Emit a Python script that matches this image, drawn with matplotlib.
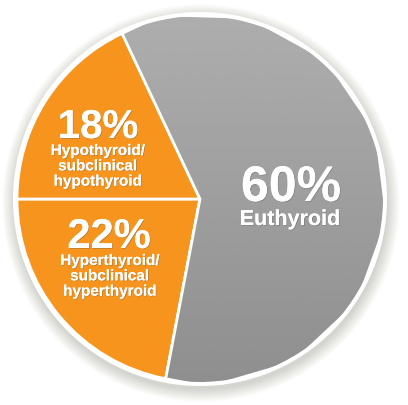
import matplotlib.pyplot as plt
import matplotlib.patheffects as pe
from matplotlib.patches import Circle
import numpy as np

plt.rcParams['font.family'] = ['Liberation Sans', 'DejaVu Sans']

# data
labels = ["Hyperthyroid/\nsubclinical\nhyperthyroid", "Euthyroid", "Hypothyroid/\nsubclinical\nhypothyroid"]
values = [22, 60, 18]
pct_text = ["22%", "60%", "18%"]
colors = ["#F7941D", "#A0A0A0", "#F7941D"]

W, H = 408, 406
cx, cy, R = 200, H - 200, 183

fig = plt.figure(figsize=(W / 100, H / 100), dpi=100)
ax = fig.add_axes([0, 0, 1, 1])
ax.set_xlim(0, W)
ax.set_ylim(0, H)
ax.set_aspect('equal')
ax.axis('off')

# soft shadow + white ring behind the pie
for i in range(14):
    ax.add_patch(Circle((cx + 1, cy - 4), R + 4 + i * 0.9, color="#6e6e55",
                        alpha=0.02, lw=0, zorder=0))
ax.add_patch(Circle((cx, cy), R + 4, color="white", lw=0, zorder=1))

wedges, _ = ax.pie(values, colors=colors, startangle=180, counterclock=True,
                   center=(cx, cy), radius=R,
                   wedgeprops=dict(edgecolor="white", linewidth=2))
for w in wedges:
    w.set_zorder(2)

# vertical gradient on the gray slice
grad = np.linspace(0.56, 0.68, 256).reshape(-1, 1)
img = ax.imshow(grad, cmap='gray', vmin=0, vmax=1, extent=(cx - R, cx + R, cy - R, cy + R),
                origin='lower', zorder=3, aspect='auto')
img.set_clip_path(wedges[1])
ax.set_xlim(0, W)
ax.set_ylim(0, H)
# white edge of gray slice above the gradient
w1 = wedges[1]
edge = plt.Polygon(w1.get_path().vertices, closed=True, transform=w1.get_transform(),
                   fill=False, edgecolor="white", lw=2, zorder=4)
ax.add_patch(edge)

shadow = [pe.withSimplePatchShadow(offset=(0.6, -0.6), shadow_rgbFace="#555555", alpha=0.35),
          pe.Normal()]

# big percentages
ax.text(98, H - 139, pct_text[2], ha='center', va='baseline', color='white',
        fontsize=29, fontweight='bold', zorder=5, path_effects=shadow)
ax.text(109, H - 249, pct_text[0], ha='center', va='baseline', color='white',
        fontsize=30, fontweight='bold', zorder=5, path_effects=shadow)
ax.text(291, H - 202, pct_text[1], ha='center', va='baseline', color='white',
        fontsize=36, fontweight='bold', zorder=5, path_effects=shadow)

# category labels
ax.text(98, H - 145, labels[2], ha='center', va='top', color='white',
        fontsize=11, fontweight='bold', linespacing=1.12, zorder=5, path_effects=shadow)
ax.text(110, H - 255, labels[0], ha='center', va='top', color='white',
        fontsize=11, fontweight='bold', linespacing=1.12, zorder=5, path_effects=shadow)
ax.text(290, H - 226, labels[1], ha='center', va='baseline', color='white',
        fontsize=15.5, fontweight='bold', zorder=5, path_effects=shadow)

fig.savefig("out.png", dpi=100)
